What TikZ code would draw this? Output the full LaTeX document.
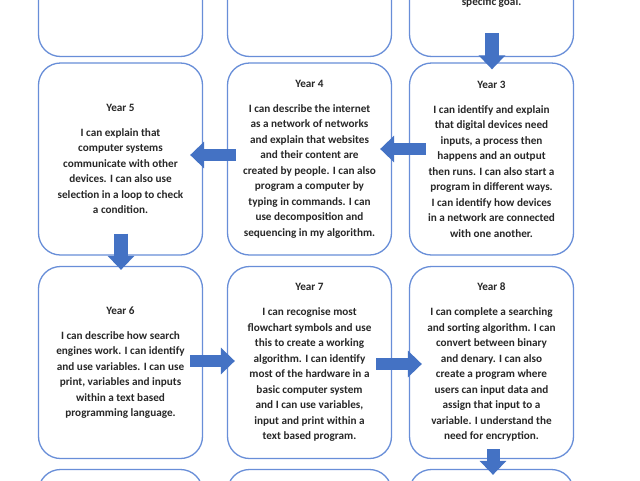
\documentclass[tikz,border=0pt]{standalone}
\usepackage{fontspec}
\setmainfont{Carlito}
\usetikzlibrary{arrows.meta,calc}
\definecolor{boxline}{RGB}{104,142,216}
\definecolor{arrowblue}{RGB}{68,114,196}
\definecolor{txt}{RGB}{40,40,40}
\tikzset{
  yearbox/.style={draw=boxline, line width=1.3pt, rounded corners=22pt, fill=white,
    minimum width=164pt, minimum height=192pt, align=center, inner sep=0pt,
    font=\bfseries\fontsize{11.2}{15.5}\selectfont, text=txt},
  blockarrow/.style={draw=arrowblue, line width=#1, -{Triangle[width=26pt,length=14pt]}},
  blockarrow/.default=13pt
}
\newcommand{\yr}[1]{#1\\[9.5pt]}
\begin{document}
\begin{tikzpicture}[x=1pt,y=-1pt]
\useasboundingbox (0,0) rectangle (640,480);
\clip (0,0) rectangle (640,480);
\fill[white] (0,0) rectangle (640,480);
% row 1
\node[yearbox] (r1c1) at (120.5,-39.5) {};
\node[yearbox] (r1c2) at (309.5,-39.5) {};
\node[yearbox] (r1c3) at (491.5,-39.5) {};
\node[font=\bfseries\fontsize{11.2}{15.5}\selectfont, text=txt, anchor=base, inner sep=0pt] (goal) at (491.5,5) {specific goal.};
% row 2
\node[yearbox] (r2c1) at (120.5,159) {\yr{Year 5}I can explain that\\ computer systems\\ communicate with other\\ devices. I can also use\\ selection in a loop to check\\ a condition.};
\node[yearbox] (r2c2) at (309.5,159) {\yr{Year 4}I can describe the internet\\ as a network of networks\\ and explain that websites\\ and their content are\\ created by people. I can also\\ program a computer by\\ typing in commands. I can\\ use decomposition and\\ sequencing in my algorithm.};
\node[yearbox] (r2c3) at (491.5,159) {\yr{Year 3}I can identify and explain\\ that digital devices need\\ inputs, a process then\\ happens and an output\\ then runs. I can also start a\\ program in different ways.\\ I can identify how devices\\ in a network are connected\\ with one another.};
% row 3
\node[yearbox] (r3c1) at (120.5,362.5) {\yr{Year 6}I can describe how search\\ engines work. I can identify\\ and use variables. I can use\\ print, variables and inputs\\ within a text based\\ programming language.};
\node[yearbox] (r3c2) at (309.5,362.5) {\yr{Year 7}I can recognise most\\ flowchart symbols and use\\ this to create a working\\ algorithm. I can identify\\ most of the hardware in a\\ basic computer system\\ and I can use variables,\\ input and print within a\\ text based program.};
\node[yearbox] (r3c3) at (491.5,362.5) {\yr{Year 8}I can complete a searching\\ and sorting algorithm. I can\\ convert between binary\\ and denary. I can also\\ create a program where\\ users can input data and\\ assign that input to a\\ variable. I understand the\\ need for encryption.};
% row 4
\node[yearbox] (r4c1) at (120.5,565.5) {};
\node[yearbox] (r4c2) at (309.5,565.5) {};
\node[yearbox] (r4c3) at (491.5,565.5) {};
% arrows
\draw[blockarrow=14pt] ($(r1c3.south)+(0.5,-24)$) -- ($(r2c3.north)+(0.5,7)$);
\draw[blockarrow=12pt] ($(r2c3.west)+(17,-10)$) -- ($(r2c2.east)+(-12,-10)$);
\draw[blockarrow=12pt] ($(r2c2.west)+(9,-4)$) -- ($(r2c1.east)+(-13,-4)$);
\draw[blockarrow=14pt] ($(r2c1.south)+(0.5,-22)$) -- ($(r3c1.north)+(0.5,4)$);
\draw[blockarrow=12pt] ($(r3c1.east)+(-13,-1.5)$) -- ($(r3c2.west)+(8,-1.5)$);
\draw[blockarrow=12pt] ($(r3c2.east)+(-16,1.5)$) -- ($(r3c3.west)+(13,1.5)$);
\draw[blockarrow=13pt] ($(r3c3.south)+(1.5,-10)$) -- ($(r4c3.north)+(1.5,6)$);
\end{tikzpicture}
\end{document}
